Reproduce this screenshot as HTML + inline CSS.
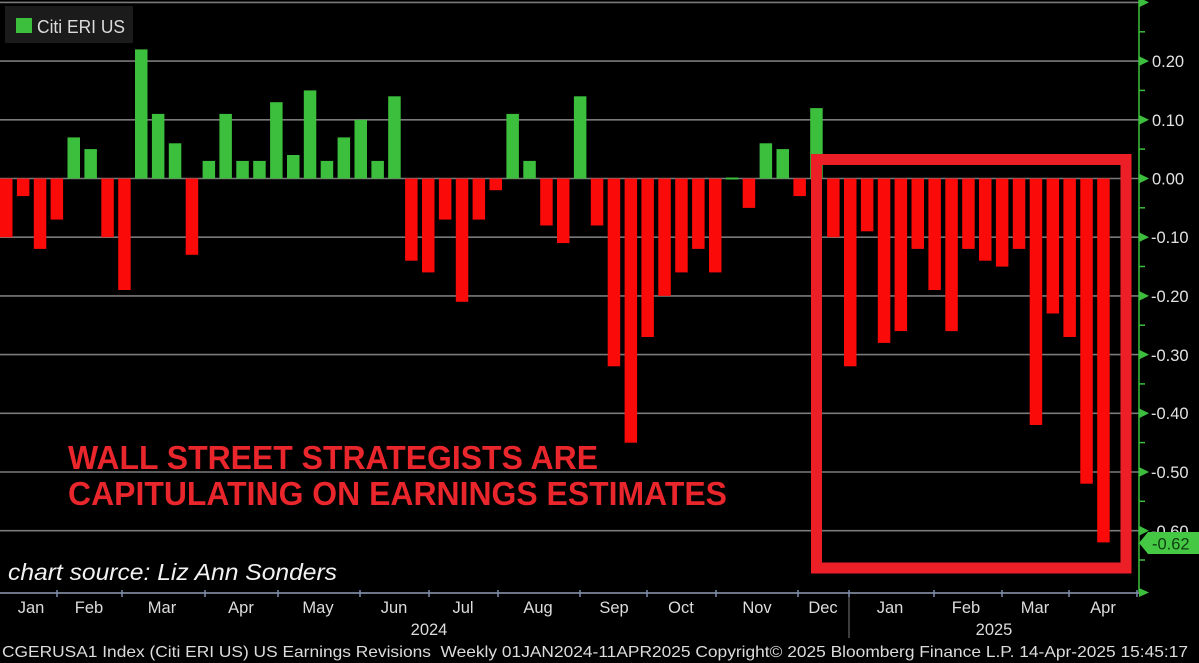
<!DOCTYPE html>
<html><head><meta charset="utf-8"><style>
html,body{margin:0;padding:0;background:#000;}
svg{display:block;}
text{font-family:"Liberation Sans",sans-serif;}
</style></head><body>
<svg width="1199" height="663" viewBox="0 0 1199 663" xmlns="http://www.w3.org/2000/svg">
<rect width="1199" height="663" fill="#000"/>
<!-- gridlines -->
<g stroke="#7a7a7a" stroke-width="1.6">
<line x1="0" y1="2.4" x2="1139" y2="2.4"/>
<line x1="0" y1="61.1" x2="1139" y2="61.1"/>
<line x1="0" y1="119.8" x2="1139" y2="119.8"/>
<line x1="0" y1="178.5" x2="1139" y2="178.5"/>
<line x1="0" y1="237.2" x2="1139" y2="237.2"/>
<line x1="0" y1="295.9" x2="1139" y2="295.9"/>
<line x1="0" y1="354.6" x2="1139" y2="354.6"/>
<line x1="0" y1="413.3" x2="1139" y2="413.3"/>
<line x1="0" y1="472" x2="1139" y2="472"/>
<line x1="0" y1="530.7" x2="1139" y2="530.7"/>
</g>
<!-- bars -->
<g fill="#fb0a0a">
<rect x="0" y="178.5" width="12.5" height="58.7"/>
<rect x="16.9" y="178.5" width="12.5" height="17.6"/>
<rect x="33.8" y="178.5" width="12.5" height="70.4"/>
<rect x="50.6" y="178.5" width="12.5" height="41.1"/>
<rect x="101.3" y="178.5" width="12.5" height="58.7"/>
<rect x="118.2" y="178.5" width="12.5" height="111.5"/>
<rect x="185.7" y="178.5" width="12.5" height="76.3"/>
<rect x="405.1" y="178.5" width="12.5" height="82.2"/>
<rect x="422.0" y="178.5" width="12.5" height="93.9"/>
<rect x="438.9" y="178.5" width="12.5" height="41.1"/>
<rect x="455.8" y="178.5" width="12.5" height="123.3"/>
<rect x="472.6" y="178.5" width="12.5" height="41.1"/>
<rect x="489.5" y="178.5" width="12.5" height="11.7"/>
<rect x="540.2" y="178.5" width="12.5" height="47.0"/>
<rect x="557.0" y="178.5" width="12.5" height="64.6"/>
<rect x="590.8" y="178.5" width="12.5" height="47.0"/>
<rect x="607.7" y="178.5" width="12.5" height="187.8"/>
<rect x="624.6" y="178.5" width="12.5" height="264.2"/>
<rect x="641.4" y="178.5" width="12.5" height="158.5"/>
<rect x="658.3" y="178.5" width="12.5" height="117.4"/>
<rect x="675.2" y="178.5" width="12.5" height="93.9"/>
<rect x="692.1" y="178.5" width="12.5" height="70.4"/>
<rect x="709.0" y="178.5" width="12.5" height="93.9"/>
<rect x="742.7" y="178.5" width="12.5" height="29.4"/>
<rect x="793.4" y="178.5" width="12.5" height="17.6"/>
<rect x="827.1" y="178.5" width="12.5" height="58.7"/>
<rect x="844.0" y="178.5" width="12.5" height="187.8"/>
<rect x="860.9" y="178.5" width="12.5" height="52.8"/>
<rect x="877.8" y="178.5" width="12.5" height="164.4"/>
<rect x="894.6" y="178.5" width="12.5" height="152.6"/>
<rect x="911.5" y="178.5" width="12.5" height="70.4"/>
<rect x="928.4" y="178.5" width="12.5" height="111.5"/>
<rect x="945.3" y="178.5" width="12.5" height="152.6"/>
<rect x="962.2" y="178.5" width="12.5" height="70.4"/>
<rect x="979.0" y="178.5" width="12.5" height="82.2"/>
<rect x="995.9" y="178.5" width="12.5" height="88.1"/>
<rect x="1012.8" y="178.5" width="12.5" height="70.4"/>
<rect x="1029.7" y="178.5" width="12.5" height="246.5"/>
<rect x="1046.6" y="178.5" width="12.5" height="135.0"/>
<rect x="1063.4" y="178.5" width="12.5" height="158.5"/>
<rect x="1080.3" y="178.5" width="12.5" height="305.2"/>
<rect x="1097.2" y="178.5" width="12.5" height="363.9"/>
</g>
<g fill="#3cbf3c">
<rect x="67.5" y="137.4" width="12.5" height="41.1"/>
<rect x="84.4" y="149.1" width="12.5" height="29.4"/>
<rect x="135.0" y="49.4" width="12.5" height="129.1"/>
<rect x="151.9" y="113.9" width="12.5" height="64.6"/>
<rect x="168.8" y="143.3" width="12.5" height="35.2"/>
<rect x="202.6" y="160.9" width="12.5" height="17.6"/>
<rect x="219.4" y="113.9" width="12.5" height="64.6"/>
<rect x="236.3" y="160.9" width="12.5" height="17.6"/>
<rect x="253.2" y="160.9" width="12.5" height="17.6"/>
<rect x="270.1" y="102.2" width="12.5" height="76.3"/>
<rect x="287.0" y="155.0" width="12.5" height="23.5"/>
<rect x="303.8" y="90.4" width="12.5" height="88.1"/>
<rect x="320.7" y="160.9" width="12.5" height="17.6"/>
<rect x="337.6" y="137.4" width="12.5" height="41.1"/>
<rect x="354.5" y="119.8" width="12.5" height="58.7"/>
<rect x="371.4" y="160.9" width="12.5" height="17.6"/>
<rect x="388.2" y="96.3" width="12.5" height="82.2"/>
<rect x="506.4" y="113.9" width="12.5" height="64.6"/>
<rect x="523.3" y="160.9" width="12.5" height="17.6"/>
<rect x="573.9" y="96.3" width="12.5" height="82.2"/>
<rect x="759.6" y="143.3" width="12.5" height="35.2"/>
<rect x="776.5" y="149.1" width="12.5" height="29.4"/>
<rect x="810.2" y="108.1" width="12.5" height="70.4"/>
</g>
<rect x="725.8" y="177.5" width="12.5" height="2" fill="#3cbf3c"/>

<!-- highlight box -->
<rect x="816.5" y="159.5" width="309.5" height="408.5" fill="none" stroke="#ec1f27" stroke-width="11"/>

<!-- legend -->
<rect x="5" y="6" width="128" height="37" fill="#1b1b1b"/>
<rect x="16" y="18" width="16" height="15" fill="#3cbf3c"/>
<text x="37" y="33" font-size="18" fill="#dcdcdc" textLength="88" lengthAdjust="spacingAndGlyphs">Citi ERI US</text>

<!-- annotation -->
<text x="68" y="469" font-size="33" font-weight="bold" fill="#e8262b" textLength="530" lengthAdjust="spacingAndGlyphs">WALL STREET STRATEGISTS ARE</text>
<text x="68" y="505" font-size="33" font-weight="bold" fill="#e8262b" textLength="659" lengthAdjust="spacingAndGlyphs">CAPITULATING ON EARNINGS ESTIMATES</text>

<text x="8" y="580" font-size="23" font-style="italic" fill="#f2f2f2" textLength="329" lengthAdjust="spacingAndGlyphs">chart source: Liz Ann Sonders</text>

<!-- y axis -->
<line x1="1139" y1="0" x2="1139" y2="594" stroke="#3cbf3c" stroke-width="1.5"/>
<g stroke="#3cbf3c" stroke-width="1.5">
<line x1="1139" y1="31.8" x2="1145" y2="31.8"/>
<line x1="1139" y1="90.4" x2="1145" y2="90.4"/>
<line x1="1139" y1="149.1" x2="1145" y2="149.1"/>
<line x1="1139" y1="207.8" x2="1145" y2="207.8"/>
<line x1="1139" y1="266.5" x2="1145" y2="266.5"/>
<line x1="1139" y1="325.2" x2="1145" y2="325.2"/>
<line x1="1139" y1="383.9" x2="1145" y2="383.9"/>
<line x1="1139" y1="442.6" x2="1145" y2="442.6"/>
<line x1="1139" y1="501.3" x2="1145" y2="501.3"/>
<line x1="1139" y1="560" x2="1145" y2="560"/>
</g>
<g fill="#3cbf3c">
<polygon points="1139,-2.5 1149,2.4 1139,7.3"/>
<polygon points="1139,56.2 1149,61.1 1139,66"/>
<polygon points="1139,114.9 1149,119.8 1139,124.7"/>
<polygon points="1139,173.6 1149,178.5 1139,183.4"/>
<polygon points="1139,232.3 1149,237.2 1139,242.1"/>
<polygon points="1139,291 1149,295.9 1139,300.8"/>
<polygon points="1139,349.7 1149,354.6 1139,359.5"/>
<polygon points="1139,408.4 1149,413.3 1139,418.2"/>
<polygon points="1139,467.1 1149,472 1139,476.9"/>
<polygon points="1139,525.8 1149,530.7 1139,535.6"/>
<polygon points="1139,588 1149,592.5 1139,597"/>
</g>
<g font-size="16.5" fill="#e2e2e2">
<text x="1152" y="67">0.20</text>
<text x="1152" y="126">0.10</text>
<text x="1152" y="184.5">0.00</text>
<text x="1151" y="243">-0.10</text>
<text x="1151" y="302">-0.20</text>
<text x="1151" y="361">-0.30</text>
<text x="1151" y="419">-0.40</text>
<text x="1151" y="478">-0.50</text>
<text x="1151" y="537">-0.60</text>
</g>
<polygon points="1139,543 1148,532 1199,532 1199,554 1148,554" fill="#45c945"/>
<text x="1152" y="549.5" font-size="16.5" fill="#0f3d10">-0.62</text>

<!-- x axis -->
<line x1="0" y1="593" x2="1139" y2="593" stroke="#6c7589" stroke-width="2"/>
<g stroke="#7d8db0" stroke-width="1.5">
<line x1="57" y1="590" x2="57" y2="597"/>
<line x1="122" y1="590" x2="122" y2="597"/>
<line x1="205" y1="590" x2="205" y2="597"/>
<line x1="278" y1="590" x2="278" y2="597"/>
<line x1="360" y1="590" x2="360" y2="597"/>
<line x1="429" y1="590" x2="429" y2="597"/>
<line x1="498" y1="590" x2="498" y2="597"/>
<line x1="580" y1="590" x2="580" y2="597"/>
<line x1="647" y1="590" x2="647" y2="597"/>
<line x1="716" y1="590" x2="716" y2="597"/>
<line x1="798" y1="590" x2="798" y2="597"/>
<line x1="849" y1="590" x2="849" y2="597"/>
<line x1="934" y1="590" x2="934" y2="597"/>
<line x1="1002" y1="590" x2="1002" y2="597"/>
<line x1="1069" y1="590" x2="1069" y2="597"/>
<line x1="1137" y1="590" x2="1137" y2="597"/>
</g>
<line x1="849" y1="597" x2="849" y2="638" stroke="#666" stroke-width="1.2"/>
<g font-size="16.5" fill="#dcdcdc" text-anchor="middle">
<text x="31" y="613">Jan</text>
<text x="89" y="613">Feb</text>
<text x="162" y="613">Mar</text>
<text x="241" y="613">Apr</text>
<text x="318" y="613">May</text>
<text x="394" y="613">Jun</text>
<text x="463" y="613">Jul</text>
<text x="538" y="613">Aug</text>
<text x="614" y="613">Sep</text>
<text x="681" y="613">Oct</text>
<text x="757" y="613">Nov</text>
<text x="823" y="613">Dec</text>
<text x="890" y="613">Jan</text>
<text x="966" y="613">Feb</text>
<text x="1035" y="613">Mar</text>
<text x="1103" y="613">Apr</text>
<text x="429" y="635">2024</text>
<text x="994" y="635">2025</text>
</g>
<text x="2" y="657" font-size="16" fill="#dcdcdc" textLength="1186" lengthAdjust="spacingAndGlyphs" xml:space="preserve">CGERUSA1 Index (Citi ERI US) US Earnings Revisions  Weekly 01JAN2024-11APR2025 Copyright© 2025 Bloomberg Finance L.P. 14-Apr-2025 15:45:17</text>
</svg>
</body></html>
